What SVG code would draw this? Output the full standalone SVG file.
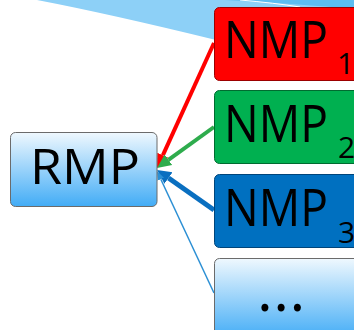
<svg xmlns="http://www.w3.org/2000/svg" width="354" height="330" viewBox="0 0 354 330">
<style>
.t{font-family:"Open Sans","Liberation Sans",sans-serif;fill:#000}
.big{font-size:51px}
.sub{font-size:30px}
</style>
<defs>
<linearGradient id="g" x1="0" y1="0" x2="0" y2="1">
<stop offset="0" stop-color="#eff8fe"/>
<stop offset="1" stop-color="#42acf6"/>
</linearGradient>
<marker id="ar" markerUnits="userSpaceOnUse" viewBox="0 -8 16 16" refX="0" refY="0" markerWidth="16" markerHeight="16" orient="auto"><path d="M0,-6L14,0L0,6Z" fill="#ff0000"/></marker>
<marker id="ag" markerUnits="userSpaceOnUse" viewBox="0 -8 16 16" refX="0" refY="0" markerWidth="16" markerHeight="16" orient="auto"><path d="M0,-6.5L14,0L0,6.5Z" fill="#2eac4d"/></marker>
<marker id="ab" markerUnits="userSpaceOnUse" viewBox="0 -8 16 16" refX="0" refY="0" markerWidth="16" markerHeight="16" orient="auto"><path d="M0,-7L14,0L0,7Z" fill="#0a6fc0"/></marker>
<marker id="at" markerUnits="userSpaceOnUse" viewBox="0 -5 10 10" refX="0" refY="0" markerWidth="10" markerHeight="10" orient="auto"><path d="M0,-3.5L9,0L0,3.5Z" fill="#2b8fd4"/></marker>
</defs>
<g id="swoosh">
<path d="M37,0 Q110,14 216,40 L354,40 L354,0 Z" fill="#8dd0f7"/>
<path d="M225,0 Q300,4 354,9 L354,0 Z" fill="#5cbdf1"/>
<path d="M240,0 Q275,3 300,7" fill="none" stroke="#ffffff" stroke-width="1"/>
</g>
<g id="connectors" fill="none">
<line x1="214" y1="43" x2="162.8" y2="155.3" stroke="#ff0000" stroke-width="4" marker-end="url(#ar)"/>
<line x1="214" y1="127" x2="168.4" y2="159.8" stroke="#2eac4d" stroke-width="4" marker-end="url(#ag)"/>
<line x1="214" y1="210" x2="168.5" y2="178" stroke="#0a6fc0" stroke-width="5" marker-end="url(#ab)"/>
<line x1="214" y1="293" x2="160.8" y2="179.2" stroke="#2b8fd4" stroke-width="1.5" marker-end="url(#at)"/>
</g>
<g id="rmp">
<rect x="10.5" y="132.5" width="146.5" height="74" rx="5" fill="url(#g)" stroke="#6b6b6b" stroke-width="1"/>
<text class="t" x="30" y="184" font-size="50" textLength="110" lengthAdjust="spacingAndGlyphs">RMP</text>
</g>
<g id="nmp1">
<rect x="214.5" y="7.5" width="147" height="73" rx="5" fill="#ff0000" stroke="#9c0000" stroke-width="1"/>
<text class="t big" x="224" y="58" textLength="104" lengthAdjust="spacingAndGlyphs">NMP</text>
<text class="t sub" x="337" y="74">1</text>
</g>
<g id="nmp2">
<rect x="214.5" y="90.5" width="147" height="73" rx="5" fill="#00b050" stroke="#006b30" stroke-width="1"/>
<text class="t big" x="224" y="142" textLength="104" lengthAdjust="spacingAndGlyphs">NMP</text>
<text class="t sub" x="338" y="158">2</text>
</g>
<g id="nmp3">
<rect x="214.5" y="174.5" width="147" height="73" rx="5" fill="#0070c0" stroke="#00457a" stroke-width="1"/>
<text class="t big" x="224" y="226" textLength="104" lengthAdjust="spacingAndGlyphs">NMP</text>
<text class="t sub" x="338" y="243">3</text>
</g>
<g id="nmp-more">
<rect x="214.5" y="258.5" width="147" height="80" rx="5" fill="url(#g)" stroke="#6b6b6b" stroke-width="1"/>
<text class="t" x="257" y="311" font-size="60" letter-spacing="0.5">...</text>
</g>
</svg>
